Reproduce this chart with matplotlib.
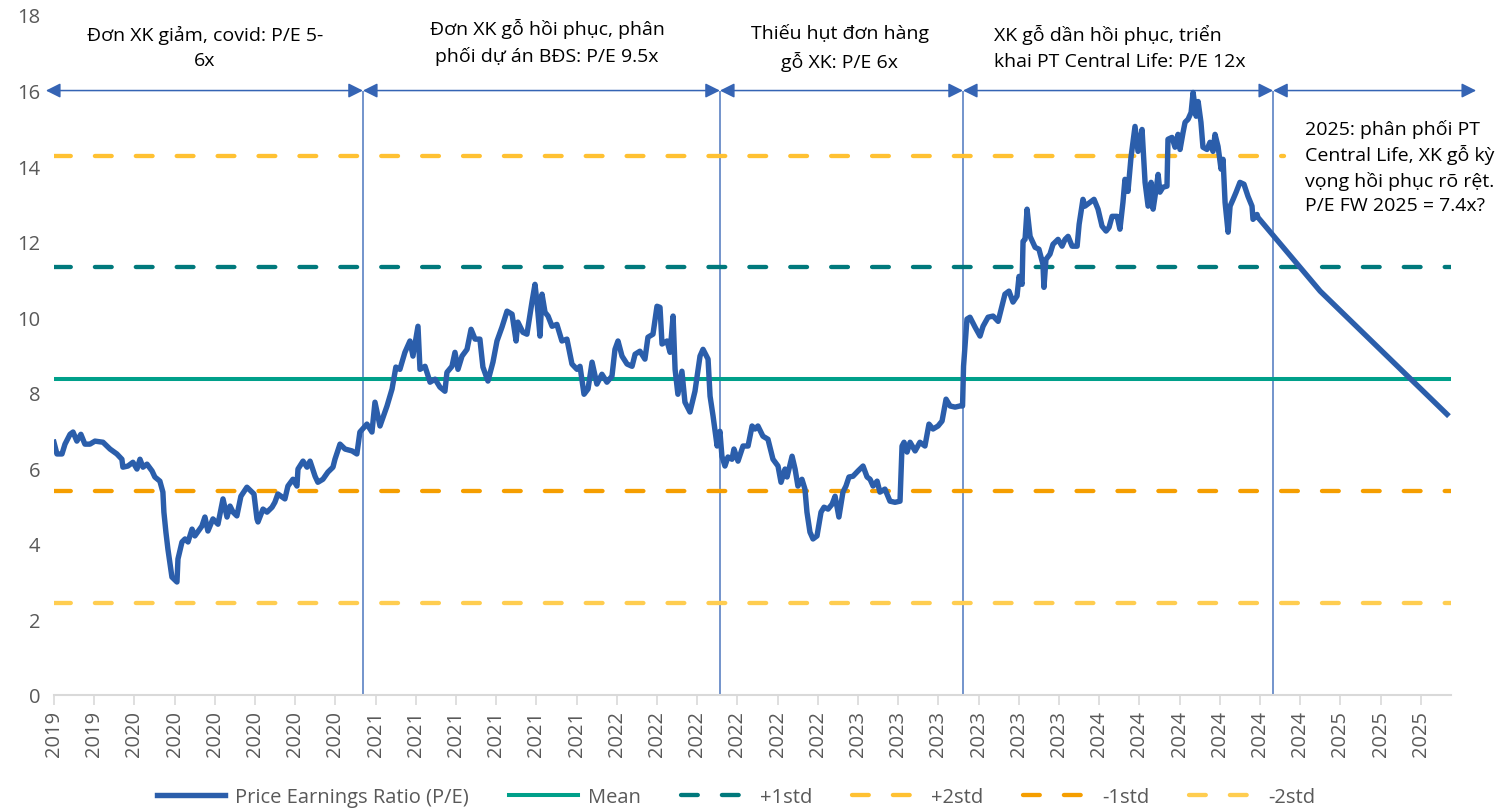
import matplotlib
matplotlib.use("Agg")
import matplotlib.pyplot as plt
import numpy as np

plt.rcParams["font.family"] = ["Open Sans", "DejaVu Sans"]

# months counted from Sep 2019 (first category of the axis)
pe_months = [
    0.00, 0.15, 0.40, 0.55, 0.80, 0.95, 1.14, 1.34, 1.54, 1.79, 2.04, 2.44, 2.79, 3.13, 3.38,
    3.43, 3.68, 3.93, 4.13, 4.28, 4.43, 4.63, 4.88, 5.02, 5.27, 5.42, 5.47, 5.57, 5.67, 5.87,
    6.12, 6.17, 6.37, 6.52, 6.67, 6.87, 7.01, 7.36, 7.51, 7.66, 7.91, 8.16, 8.41, 8.61, 8.76,
    8.91, 9.10, 9.30, 9.60, 9.95, 10.10, 10.15, 10.40, 10.60, 10.85, 10.99, 11.14, 11.49, 11.64, 11.89,
    12.09, 12.14, 12.39, 12.59, 12.74, 12.99, 13.13, 13.38, 13.63, 13.88, 13.98, 14.23, 14.48, 14.83, 15.07,
    15.22, 15.57, 15.82, 15.97, 16.22, 16.57, 16.82, 17.01, 17.21, 17.46, 17.71, 17.86, 18.11, 18.21, 18.46,
    18.71, 18.96, 19.20, 19.45, 19.55, 19.80, 19.95, 20.10, 20.30, 20.55, 20.75, 20.95, 21.19, 21.34, 21.59,
    21.84, 22.04, 22.29, 22.54, 22.79, 22.99, 23.08, 23.33, 23.53, 23.78, 23.93, 24.03, 24.18, 24.28, 24.43,
    24.58, 24.78, 25.02, 25.27, 25.52, 25.77, 26.02, 26.17, 26.37, 26.57, 26.77, 27.01, 27.26, 27.51, 27.76,
    27.91, 28.06, 28.26, 28.51, 28.76, 28.91, 29.15, 29.40, 29.55, 29.80, 30.00, 30.15, 30.25, 30.50, 30.65,
    30.80, 30.90, 31.04, 31.24, 31.39, 31.64, 31.89, 32.14, 32.29, 32.54, 32.64,
    32.79, 32.99, 33.13, 33.23, 33.38, 33.53, 33.73, 33.83, 34.03, 34.28, 34.53, 34.73, 34.88, 35.02, 35.27,
    35.52, 35.77, 36.02, 36.17, 36.37, 36.47, 36.72, 36.87, 37.01, 37.21, 37.36, 37.46, 37.61, 37.76, 37.96,
    38.16, 38.31, 38.51, 38.71, 38.86, 39.05, 39.25, 39.40, 39.55, 39.75, 40.00, 40.25, 40.45, 40.60, 40.75,
    40.95, 41.09, 41.34, 41.59, 41.84, 42.09, 42.19, 42.29, 42.44, 42.59, 42.84, 43.08, 43.33, 43.53, 43.73,
    43.98, 44.18, 44.38, 44.58, 44.83, 45.07, 45.20,
    45.25, 45.42, 45.57, 45.82, 46.07, 46.22, 46.47, 46.72, 46.97, 47.16, 47.31, 47.51, 47.71, 47.91, 48.01,
    48.16, 48.21, 48.31, 48.41, 48.56, 48.81, 49.00, 49.20, 49.25, 49.35, 49.55, 49.70, 49.95, 50.15, 50.30,
    50.45, 50.65, 50.90, 51.00, 51.19, 51.29, 51.54, 51.74, 51.94, 52.14, 52.34, 52.49, 52.64, 52.89, 53.03,
    53.18, 53.28, 53.43, 53.58, 53.78, 53.93, 54.13, 54.28, 54.43, 54.58, 54.68, 54.83, 54.93, 55.02, 55.17,
    55.37, 55.42, 55.62, 55.77, 55.92, 56.02, 56.17, 56.27, 56.42, 56.57, 56.67, 56.82, 56.92, 57.06, 57.16,
    57.36, 57.51, 57.66, 57.76, 57.91, 58.06, 58.16, 58.26, 58.41, 58.51, 58.66, 58.81, 59.00, 59.20, 59.40,
    59.60, 59.65, 59.85, 59.90,
    62.99, 69.30,
]
pe_values = [
    6.69, 6.38, 6.38, 6.64, 6.90, 6.96, 6.72, 6.90, 6.64, 6.64, 6.72, 6.69, 6.51, 6.38, 6.24,
    6.03, 6.06, 6.16, 5.98, 6.24, 6.03, 6.11, 5.93, 5.77, 5.66, 5.37, 4.84, 4.31, 3.86, 3.12,
    2.99, 3.60, 4.05, 4.13, 4.05, 4.39, 4.21, 4.47, 4.71, 4.34, 4.66, 4.52, 5.19, 4.71, 5.00,
    4.84, 4.74, 5.26, 5.50, 5.32, 4.66, 4.58, 4.92, 4.84, 4.97, 5.10, 5.32, 5.19, 5.53, 5.71,
    5.53, 5.98, 6.19, 6.03, 6.19, 5.79, 5.63, 5.71, 5.90, 6.03, 6.24, 6.64, 6.51, 6.46, 6.38,
    6.96, 7.17, 6.96, 7.75, 7.12, 7.65, 8.10, 8.68, 8.62, 9.07, 9.37, 8.97, 9.76, 8.62, 8.70,
    8.28, 8.36, 8.15, 8.04, 8.54, 8.70, 9.07, 8.62, 8.97, 9.15, 9.68, 9.42, 9.42, 8.68, 8.31,
    8.81, 9.37, 9.74, 10.16, 10.08, 9.37, 9.87, 9.60, 9.55, 10.40, 10.87, 10.40, 9.50, 10.61, 10.13,
    10.03, 9.76, 9.81, 9.37, 9.42, 8.76, 8.62, 8.70, 7.96, 8.10, 8.81, 8.23, 8.49, 8.28, 8.44,
    9.15, 9.37, 8.97, 8.76, 8.70, 9.02, 9.10, 8.89, 9.47, 9.55, 10.29, 10.26, 9.29, 9.37, 9.07,
    10.03, 8.62, 7.96, 8.57, 7.75, 7.49, 8.04, 8.97, 9.15, 8.89, 7.91,
    7.38, 6.59, 6.98, 6.32, 6.06, 6.30, 6.24, 6.51, 6.19, 6.59, 6.59, 7.12, 7.04, 7.12, 6.85,
    6.77, 6.24, 6.06, 5.63, 5.98, 5.77, 6.32, 5.98, 5.53, 5.71, 5.45, 4.84, 4.31, 4.13, 4.21,
    4.84, 4.97, 4.92, 5.05, 5.26, 4.71, 5.37, 5.53, 5.77, 5.79, 5.93, 6.06, 5.77, 5.71, 5.53,
    5.66, 5.37, 5.45, 5.13, 5.10, 5.13, 6.59, 6.69, 6.43, 6.69, 6.46, 6.69, 6.59, 7.17, 7.04,
    7.12, 7.25, 7.83, 7.65, 7.62, 7.65, 7.65,
    8.70, 9.95, 10.00, 9.74, 9.50, 9.76, 10.00, 10.03, 9.89, 10.29, 10.61, 10.69, 10.40, 10.56, 11.08,
    10.87, 12.01, 12.06, 12.86, 12.14, 11.85, 11.80, 11.40, 10.79, 11.53, 11.67, 11.93, 12.06, 11.88, 12.06,
    12.14, 11.88, 11.88, 12.46, 13.12, 12.94, 13.04, 13.12, 12.86, 12.41, 12.28, 12.38, 12.67, 12.67, 12.33,
    13.04, 13.65, 13.33, 14.23, 15.05, 14.39, 14.97, 13.57, 12.94, 13.57, 12.86, 13.39, 13.78, 13.31, 13.44,
    13.47, 14.71, 14.76, 14.50, 14.84, 14.44, 14.89, 15.16, 15.24, 15.42, 15.95, 15.32, 15.71, 15.16, 14.50,
    14.44, 14.63, 14.39, 14.84, 14.52, 13.92, 14.18, 13.04, 12.25, 12.94, 13.12, 13.31, 13.57, 13.52, 13.20,
    12.94, 12.59, 12.72, 12.64,
    10.69, 7.43,
]

pe_mean = 8.36
pe_std = 2.96
band_end = 69.5        # most bands run to the end of the axis
plus2_end = 61.2       # the +2std series stops earlier

tick_months = list(range(0, 70, 2))
tick_labels = [
    "2019", "2019",
    "2020", "2020", "2020", "2020", "2020", "2020",
    "2021", "2021", "2021", "2021", "2021", "2021",
    "2022", "2022", "2022", "2022", "2022", "2022",
    "2023", "2023", "2023", "2023", "2023", "2023",
    "2024", "2024", "2024", "2024", "2024", "2024",
    "2025", "2025", "2025",
]

# phase boundaries (months) and the text for each phase
phase_edges = [-0.4, 15.37, 33.13, 45.22, 60.65, 70.75]
phase_texts = [
    "Đơn XK giảm, covid: P/E 5-\n6x",
    "Đơn XK gỗ hồi phục, phân\nphối dự án BĐS: P/E 9.5x",
    "Thiếu hụt đơn hàng\ngỗ XK: P/E 6x",
    "XK gỗ dần hồi phục, triển\nkhai PT Central Life: P/E 12x",
    "2025: phân phối PT\nCentral Life, XK gỗ kỳ\nvọng hồi phục rõ rệt.\nP/E FW 2025 = 7.4x?",
]

fig = plt.figure(figsize=(15.11, 8.12), dpi=100)
ax = fig.add_axes([0.0357, 0.1429, 0.9246, 0.8374])

dash = (3.9, 5.6)
ax.plot(pe_months, pe_values, color="#2B5EAB", lw=3.9, solid_joinstyle="round",
        label="Price Earnings Ratio (P/E)", zorder=5)
ax.plot([0, band_end], [pe_mean] * 2, color="#00A08A", lw=2.9, label="Mean", zorder=4)
ax.plot([0, band_end], [pe_mean + pe_std] * 2, color="#00797C", lw=3.1,
        dashes=dash, dash_capstyle="round", label="+1std", zorder=3)
ax.plot([0, plus2_end], [pe_mean + 2 * pe_std] * 2, color="#FFC132", lw=3.1,
        dashes=dash, dash_capstyle="round", label="+2std", zorder=3)
ax.plot([0, band_end], [pe_mean - pe_std] * 2, color="#F59E00", lw=3.1,
        dashes=dash, dash_capstyle="round", label="-1std", zorder=3)
ax.plot([0, band_end], [pe_mean - 2 * pe_std] * 2, color="#FFCD50", lw=3.1,
        dashes=dash, dash_capstyle="round", label="-2std", zorder=3)

# phase separators and arrows
ax.vlines(phase_edges[1:-1], 0, 16, color="#7394CC", lw=1.4, zorder=2)
for x0, x1 in zip(phase_edges[:-1], phase_edges[1:]):
    ax.annotate("", xy=(x1, 16), xytext=(x0, 16), annotation_clip=False,
                arrowprops=dict(arrowstyle="<|-|>", color="#3564B4", lw=1.1,
                                mutation_scale=22, shrinkA=0, shrinkB=0))

txt_kw = dict(fontsize=14, color="black", va="center", linespacing=1.55)
ax.text(7.51, 17.15, phase_texts[0], ha="center", **txt_kw)
ax.text(24.53, 17.3, phase_texts[1], ha="center", **txt_kw)
ax.text(39.1, 17.15, phase_texts[2], ha="center", **txt_kw)
ax.text(46.77, 17.15, phase_texts[3], ha="left", **txt_kw)
ax.text(62.24, 14.0, phase_texts[4], ha="left", fontsize=14, color="black",
        va="center", linespacing=1.42, clip_on=False)

ax.set_xlim(0, band_end)
ax.set_ylim(0, 18)
ax.set_yticks(range(0, 19, 2))
ax.set_xticks(tick_months)
ax.set_xticklabels(tick_labels, rotation=90)
ax.tick_params(axis="y", length=0, labelsize=14.5, colors="#595959", pad=10)
ax.tick_params(axis="x", length=7, width=1.2, color="#D9D9D9", labelsize=14.5,
               labelcolor="#595959", pad=4)
for s in ["top", "right", "left"]:
    ax.spines[s].set_visible(False)
ax.spines["bottom"].set_color("#D9D9D9")
ax.spines["bottom"].set_linewidth(1.5)

fig.legend(loc="center", bbox_to_anchor=(0.487, 0.017), ncol=6, frameon=False,
           fontsize=14.5, labelcolor="#595959", handlelength=3.4, columnspacing=2.0,
           handletextpad=0.5)

fig.savefig("out.png", dpi=100)
